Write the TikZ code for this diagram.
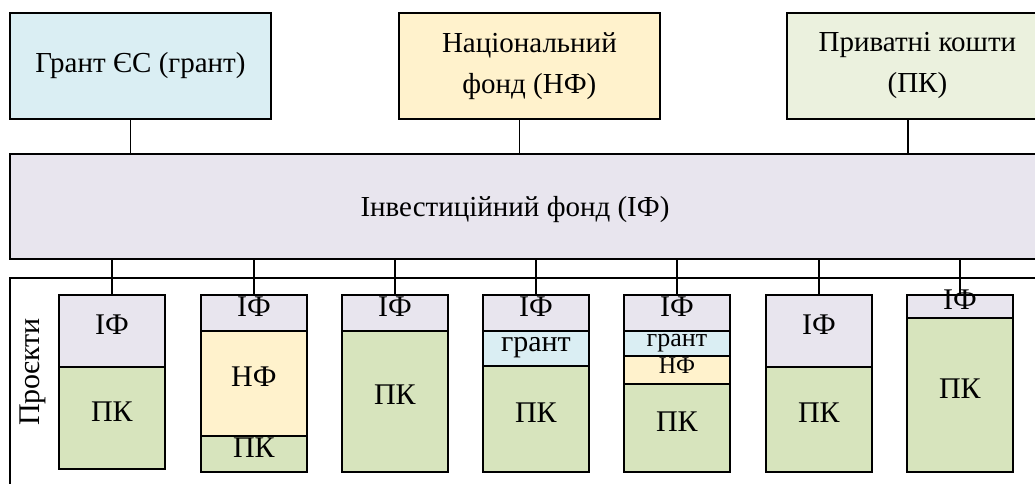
\documentclass[tikz,border=0pt]{standalone}
\usepackage{fontspec}
\setmainfont{Liberation Serif}
\newfontfamily\tnr{Liberation Serif}
\usetikzlibrary{calc}
\definecolor{grantc}{HTML}{DAEEF3}
\definecolor{nfc}{HTML}{FFF2CC}
\definecolor{pktop}{HTML}{EBF1DE}
\definecolor{pkc}{HTML}{D7E4BD}
\definecolor{ifc}{HTML}{E8E5EE}
\begin{document}
\begin{tikzpicture}[x=1pt,y=-1pt,
  topbox/.style={draw=black, line width=1.8pt, inner sep=0pt, anchor=north west, align=center,
    minimum width=261pt, minimum height=106pt, font=\tnr\fontsize{29}{41}\selectfont},
  seg/.style={draw=black, line width=1.8pt, inner sep=0pt, anchor=north west, minimum width=106pt,
    text height=0.66em, text depth=0pt, font=\tnr\fontsize{30}{32}\selectfont},
  conn/.style={line width=1.8pt}]
\useasboundingbox (0,0) rectangle (1035,484);
\clip (0,0) rectangle (1035,484);
% top sources
\node[topbox, fill=grantc] (g) at (9,12) {Грант ЄС (грант)};
\node[topbox, fill=nfc] (n) at (398,12) {Національний\\фонд (НФ)};
\node[topbox, fill=pktop] (p) at (786,12) {Приватні кошти\\(ПК)};
% investment fund
\node[draw=black, line width=1.8pt, fill=ifc, anchor=north west, inner sep=0pt,
  minimum width=1040pt, minimum height=105pt] (if) at (9,153) {};
\node[font=\tnr\fontsize{29}{32}\selectfont] (iflab) at (515,210) {Інвестиційний фонд (ІФ)};
% projects frame
\node[draw=black, line width=1.8pt, anchor=north west, inner sep=0pt,
  minimum width=1040pt, minimum height=230pt] (proj) at (9,277) {};
\node[rotate=90, font=\tnr\fontsize{30}{32}\selectfont] (projlab) at (33,372) {Проєкти};
% column 1
\node[seg, fill=ifc, minimum height=72pt] (c1a) at (58,294) {ІФ};
\node[seg, fill=pkc, minimum height=102pt] (c1b) at (58,366) {ПК};
% column 2
\node[seg, fill=ifc, minimum height=36pt] (c2a) at (200,294) {ІФ};
\node[seg, fill=nfc, minimum height=105pt] (c2b) at (200,330) {НФ};
\node[seg, fill=pkc, minimum height=36pt] (c2c) at (200,435) {ПК};
% column 3
\node[seg, fill=ifc, minimum height=36pt] (c3a) at (341,294) {ІФ};
\node[seg, fill=pkc, minimum height=141pt] (c3b) at (341,330) {ПК};
% column 4
\node[seg, fill=ifc, minimum height=36pt] (c4a) at (482,294) {ІФ};
\node[seg, fill=grantc, minimum height=35pt] (c4b) at (482,330) {грант};
\node[seg, fill=pkc, minimum height=106pt] (c4c) at (482,365) {ПК};
% column 5
\node[seg, fill=ifc, minimum height=36pt] (c5a) at (623,294) {ІФ};
\node[seg, fill=grantc, minimum height=25pt, font=\tnr\fontsize{26}{28}\selectfont] (c5b) at (623,330) {грант};
\node[seg, fill=nfc, minimum height=28pt, font=\tnr\fontsize{24}{26}\selectfont] (c5c) at (623,355) {НФ};
\node[seg, fill=pkc, minimum height=88pt] (c5d) at (623,383) {ПК};
% column 6
\node[seg, fill=ifc, minimum height=72pt] (c6a) at (765,294) {ІФ};
\node[seg, fill=pkc, minimum height=105pt] (c6b) at (765,366) {ПК};
% column 7
\node[seg, fill=ifc, minimum height=23pt] (c7a) at (906,294) {ІФ};
\node[seg, fill=pkc, minimum height=154pt] (c7b) at (906,317) {ПК};
% connectors top
\draw[conn] ([xshift=-10pt]g.south) -- ([xshift=-10pt]g.south |- if.north);
\draw[conn] ([xshift=-10pt]n.south) -- ([xshift=-10pt]n.south |- if.north);
\draw[conn] ([xshift=-9.5pt]p.south) -- ([xshift=-9.5pt]p.south |- if.north);
% connectors to projects
\foreach \c in {c1a,c2a,c3a,c4a,c5a,c6a,c7a}
  \draw[conn] (\c.north) -- (\c.north |- if.south);
\end{tikzpicture}
\end{document}
